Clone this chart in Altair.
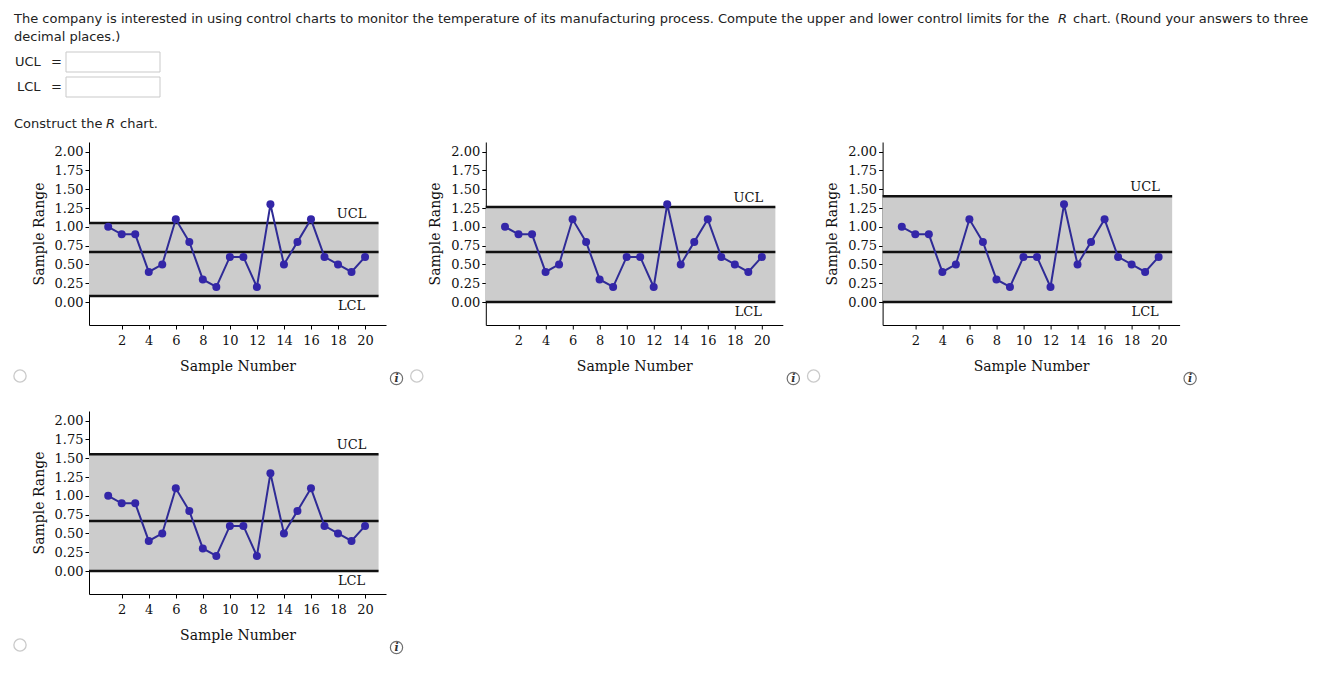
import altair as alt
import pandas as pd

# ---------------- data ----------------
sample_numbers = list(range(1, 21))
sample_ranges = [1.0, 0.9, 0.9, 0.4, 0.5, 1.1, 0.8, 0.3, 0.2, 0.6,
                 0.6, 0.2, 1.3, 0.5, 0.8, 1.1, 0.6, 0.5, 0.4, 0.6]
center_line = 0.665
panel_ucl = [1.05, 1.265, 1.406, 1.555]
panel_lcl = [0.08, 0.0, 0.0, 0.0]
y_tick_values = [0.0, 0.25, 0.5, 0.75, 1.0, 1.25, 1.5, 1.75, 2.0]
x_tick_values = [2, 4, 6, 8, 10, 12, 14, 16, 18, 20]
question_part1 = ("The company is interested in using control charts to monitor the temperature "
                  "of its manufacturing process. Compute the upper and lower control limits for the")
question_part2 = "chart. (Round your answers to three"
question_line2 = "decimal places.)"
construct_part1 = "Construct the"
construct_part2 = "chart."

# ---------------- geometry ----------------
X_DOM = [-0.42, 21.55]
Y_DOM = [-0.306, 2.129]
LINE_END = 21.0
PW, PH = 297, 183
SERIF = "DejaVu Serif"
SANS = "DejaVu Sans"

x_scale = alt.Scale(domain=X_DOM, nice=False, zero=False)
y_scale = alt.Scale(domain=Y_DOM, nice=False, zero=False)
x_axis = alt.Axis(values=x_tick_values, format="d", grid=False, tickSize=4,
                  labelPadding=5, titlePadding=12, domainColor="#000",
                  tickColor="#000", labelColor="#111", titleColor="#111",
                  labelFont=SERIF, titleFont=SERIF, labelFontSize=13,
                  titleFontSize=14, titleFontWeight="normal")
y_axis = alt.Axis(values=y_tick_values, format=".2f", grid=False, tickSize=4,
                  labelPadding=2, titlePadding=8, domainColor="#000",
                  tickColor="#000", labelColor="#111", titleColor="#111",
                  labelFont=SERIF, titleFont=SERIF, labelFontSize=13,
                  titleFontSize=14, titleFontWeight="normal")


def X(field):
    return alt.X(field, type="quantitative", scale=x_scale, axis=x_axis, title="Sample Number")


def Y(field):
    return alt.Y(field, type="quantitative", scale=y_scale, axis=y_axis, title="Sample Range")


one_row = alt.Data(values=[{}])


def panel(ucl, lcl):
    band_df = pd.DataFrame({"x1": [X_DOM[0]], "x2": [LINE_END], "y1": [lcl], "y2": [ucl]})
    band = alt.Chart(band_df).mark_rect(color="#cccccc").encode(
        x=X("x1"), x2="x2", y=Y("y1"), y2="y2")
    lim_df = pd.DataFrame({"x1": [X_DOM[0]] * 3, "x2": [LINE_END] * 3,
                           "y": [ucl, center_line, lcl]})
    rules = alt.Chart(lim_df).mark_rule(color="#111", strokeWidth=2.5).encode(
        x=X("x1"), x2="x2", y=Y("y"))
    pts_df = pd.DataFrame({"n": sample_numbers, "r": sample_ranges})
    line = alt.Chart(pts_df).mark_line(color="#2f2b96", strokeWidth=2).encode(
        x=X("n"), y=Y("r"))
    pts = alt.Chart(pts_df).mark_circle(color="#3326a8", opacity=1, size=64).encode(
        x=X("n"), y=Y("r"))
    ucl_df = pd.DataFrame({"x": [19.0], "y": [ucl], "t": ["UCL"]})
    lcl_df = pd.DataFrame({"x": [19.0], "y": [lcl], "t": ["LCL"]})
    ucl_t = alt.Chart(ucl_df).mark_text(font=SERIF, fontSize=13, color="#111",
                                        dy=-9, baseline="middle").encode(
        x=X("x"), y=Y("y"), text="t:N")
    lcl_t = alt.Chart(lcl_df).mark_text(font=SERIF, fontSize=13, color="#111",
                                        dy=10, baseline="middle").encode(
        x=X("x"), y=Y("y"), text="t:N")
    radio = alt.Chart(one_row).mark_point(shape="circle", size=150, filled=False,
                                          color="#b5b5b5", strokeWidth=1.3).encode(
        x=alt.value(-69), y=alt.value(234))
    info_c = alt.Chart(one_row).mark_point(shape="circle", size=150, filled=False,
                                           color="#333", strokeWidth=1.2).encode(
        x=alt.value(307.5), y=alt.value(236.5))
    info_t = alt.Chart(one_row).mark_text(font=SERIF, fontSize=11, fontStyle="italic",
                                          fontWeight="bold", color="#333",
                                          baseline="middle").encode(
        x=alt.value(307.5), y=alt.value(237), text=alt.value("i"))
    return alt.layer(band, rules, line, pts, ucl_t, lcl_t, radio, info_c, info_t).properties(
        width=PW, height=PH)


# ---------------- header ----------------
OX, OY = 89, 13  # page position of the header origin
HH = 42


def htext(s, px, py, italic=False):
    return alt.Chart(one_row).mark_text(font=SANS, fontSize=13, color="#222", align="left",
                                        baseline="middle",
                                        fontStyle="italic" if italic else "normal").encode(
        x=alt.value(px - OX), y=alt.value(py - OY), text=alt.value(s))


def hbox(px1, py1, px2, py2):
    return alt.Chart(one_row).mark_rect(fill="white", stroke="#c9c9c9", strokeWidth=1).encode(
        x=alt.value(px1 - OX), x2=alt.value(px2 - OX),
        y=alt.value(py1 - OY), y2=alt.value(py2 - OY))


header = alt.layer(
    htext(question_part1, 14, 18),
    htext("R", 1058, 18, italic=True),
    htext(question_part2, 1073, 18),
    htext(question_line2, 14, 36),
    htext("UCL", 15, 61), htext("=", 51, 61), hbox(66, 51, 160, 71),
    htext("LCL", 17, 86), htext("=", 51, 86), hbox(66, 76, 160, 96),
    htext(construct_part1, 14, 123),
    htext("R", 106, 123, italic=True),
    htext(construct_part2, 120, 123),
).properties(width=PW, height=HH)


def blank():
    return alt.Chart(one_row).mark_text().encode(text=alt.value("")).properties(
        width=PW, height=HH)


chart = alt.concat(
    header, blank(), blank(),
    panel(panel_ucl[0], panel_lcl[0]),
    panel(panel_ucl[1], panel_lcl[1]),
    panel(panel_ucl[2], panel_lcl[2]),
    panel(panel_ucl[3], panel_lcl[3]),
    columns=3, spacing={"row": 86, "column": 99.8}, bounds="flush",
).properties(
    padding={"left": 3, "top": 5, "right": 5, "bottom": 5},
    background="white",
).configure_view(strokeWidth=0, stroke=None)

chart.save("out.html", embed_options={"renderer": "svg", "actions": False})
